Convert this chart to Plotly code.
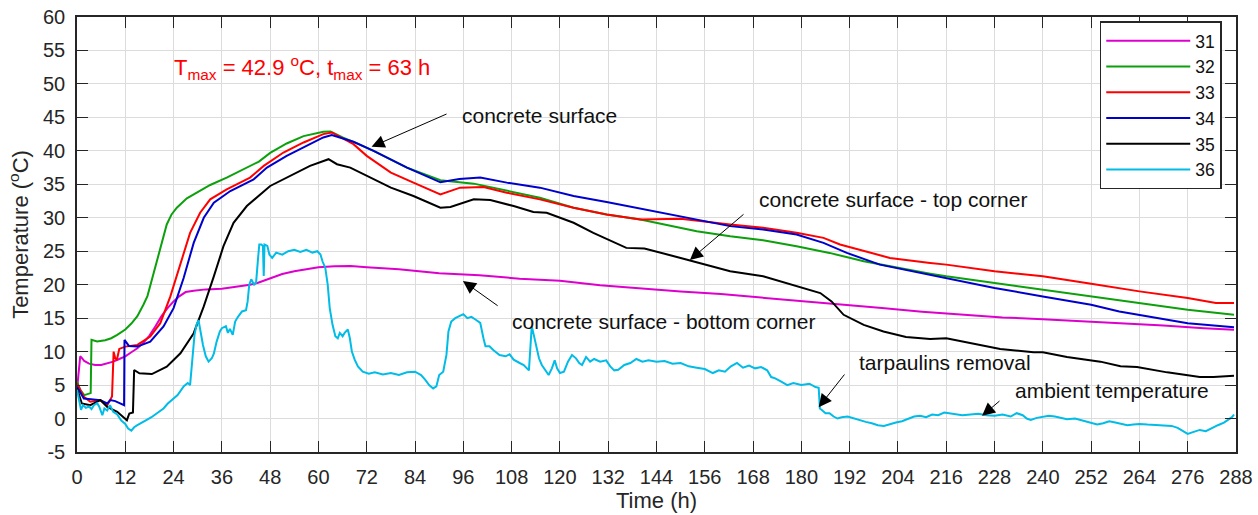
import plotly.graph_objects as go

# ---------------- data ----------------
hours_31 = [0, 0.5, 0.8, 1.3, 1.8, 3.0, 4.5, 6.0, 7.5, 9.0, 10.5, 12.0, 13.5, 15.0, 16.5, 18.0, 19.5, 21.0,
            22.5, 24.0, 25.5, 27.0, 29.0, 32, 36, 40, 43, 45, 48, 51, 54, 57, 60, 64, 68, 72, 80, 90, 100,
            110, 120, 130, 140, 150, 160, 170, 180, 190, 200, 210, 220, 230, 240, 250, 260, 270, 280, 287.5]
temp_31 = [4.3, 7.0, 9.3, 9.0, 8.6, 8.2, 8.0, 8.0, 8.2, 8.5, 8.9, 9.3, 9.9, 10.5, 11.3, 12.4, 13.8, 15.3,
           16.5, 17.5, 18.3, 18.9, 19.1, 19.3, 19.4, 19.7, 20.0, 20.3, 21.0, 21.6, 22.0, 22.3, 22.6, 22.75, 22.8,
           22.6, 22.3, 21.7, 21.4, 20.9, 20.6, 19.9, 19.4, 19.0, 18.6, 18.1, 17.6, 17.1, 16.5, 15.95, 15.5,
           15.1, 14.85, 14.55, 14.25, 13.9, 13.5, 13.25]

hours_32 = [0, 0.8, 1.8, 2.6, 3.4, 3.6, 5.0, 7.0, 8.5, 10.0, 12.0, 13.5, 15.0, 16.5, 17.5, 18.5, 20.0, 21.0,
            22.3, 23.5, 24.8, 27.3, 29.8, 33.1, 37.2, 42.2, 45.2, 48.0, 52.1, 56.3, 61.2, 63.0, 66.0, 70.0,
            73.7, 82.0, 90.3, 98.6, 106.8, 115, 123.4, 131.6, 140, 145.7, 154, 162.3, 170.5, 178.8, 187,
            195.5, 204, 212, 216, 228, 240, 252, 264, 276, 287.5]
temp_32 = [5.5, 4.3, 3.5, 3.6, 3.8, 11.75, 11.5, 11.7, 12.0, 12.5, 13.3, 14.2, 15.3, 17.0, 18.3, 20.5, 23.8,
           26.3, 29.0, 30.5, 31.5, 32.9, 33.8, 34.9, 36.0, 37.5, 38.4, 39.7, 41.1, 42.2, 42.85, 42.9, 42.0,
           41.0, 40.0, 37.5, 35.6, 35.1, 34.0, 33.0, 31.5, 30.5, 29.75, 29.0, 28.0, 27.25, 26.65, 25.75,
           24.75, 23.5, 22.5, 21.65, 21.25, 20.25, 19.25, 18.25, 17.25, 16.25, 15.5]

hours_33 = [0, 1.7, 3.3, 5.8, 7.5, 8.7, 9.1, 9.5, 9.9, 10.5, 12.0, 15.0, 18.2, 20.7, 23.2, 25.7, 28.1, 30.6,
            33.1, 37.2, 43.0, 46.4, 51.3, 56.3, 61.2, 63.3, 66.2, 68.7, 72.0, 78.0, 83.6, 90.3, 95.2, 101.0,
            106.8, 115.0, 123.4, 131.6, 140, 150, 162.3, 170.5, 178.8, 185.5, 189.6, 202, 212, 216, 228, 240,
            252, 264, 276, 283, 287.5]
temp_33 = [5.25, 3.25, 2.5, 2.75, 2.0, 3.3, 10.0, 9.0, 8.75, 10.4, 10.75, 11.0, 12.25, 14.25, 18.25, 23.25,
           27.75, 30.75, 32.75, 34.25, 36.0, 37.75, 39.75, 41.25, 42.5, 42.75, 41.75, 41.0, 39.25, 36.75,
           35.25, 33.5, 34.5, 34.6, 33.75, 32.75, 31.5, 30.5, 29.75, 29.85, 29.0, 28.5, 27.75, 27.0, 26.0,
           24.0, 23.25, 23.0, 22.0, 21.25, 20.15, 19.0, 18.0, 17.25, 17.25]

hours_34 = [0, 1.7, 5.8, 7.5, 8.3, 9.5, 11.7, 11.8, 12.9, 15.0, 18.2, 21.5, 24.0, 26.5, 29.0, 31.5, 34.0,
            38.1, 43.9, 47.2, 52.1, 56.3, 61.2, 63.3, 66.2, 68.7, 73.7, 82.0, 90.3, 95, 100.2, 106.8, 115.0,
            123.4, 131.6, 140.0, 145.7, 154, 162.3, 170.5, 178.8, 185.5, 191.3, 199.5, 209.5, 216, 228, 240,
            252, 259, 264, 276, 287.5]
temp_34 = [4.75, 3.0, 2.75, 2.25, 2.75, 2.6, 2.0, 11.75, 10.85, 10.75, 11.5, 13.75, 16.5, 21.0, 26.25, 30.0,
           32.25, 34.0, 35.75, 37.5, 39.25, 40.5, 42.0, 42.35, 41.75, 41.35, 40.0, 37.5, 35.3, 35.8, 36.0,
           35.25, 34.5, 33.25, 32.35, 31.35, 30.75, 29.75, 28.75, 28.25, 27.5, 26.25, 24.75, 23.0, 21.75,
           21.0, 19.5, 18.25, 17.0, 16.0, 15.5, 14.25, 13.65]

hours_35 = [0, 1.2, 3.3, 5.8, 7.5, 10.0, 12.4, 13.0, 13.9, 14.2, 15.5, 18.6, 22.3, 25.7, 29.0, 31.5, 34.0,
            36.4, 38.9, 42.2, 48.0, 53.0, 57.9, 62.5, 64.6, 67.9, 72.0, 78.0, 83.6, 90.3, 92.8, 98.6, 102.7,
            108.5, 113.4, 116.7, 123.4, 128.3, 136.5, 141, 150, 162.3, 170.5, 178.8, 184.7, 187.5, 190.5,
            195.5, 200.4, 206, 212, 216, 222, 229.4, 237.7, 240, 246, 254.3, 259.3, 263.4, 270.9, 279, 282.4,
            287.5]
temp_35 = [4.5, 2.25, 2.0, 2.75, 1.75, 1.0, -0.25, 0.75, 0.9, 7.25, 6.75, 6.65, 7.75, 9.75, 12.75, 16.75,
           21.25, 25.75, 29.25, 31.75, 34.75, 36.25, 37.75, 38.75, 38.0, 37.5, 36.25, 34.5, 33.25, 31.5, 31.6,
           32.75, 32.65, 31.75, 30.85, 30.75, 29.25, 27.75, 25.5, 25.4, 24.0, 22.0, 21.25, 19.75, 18.75, 17.5,
           15.5, 14.0, 13.0, 12.2, 11.9, 12.0, 11.3, 10.4, 9.9, 9.9, 9.2, 8.5, 7.8, 7.7, 6.9, 6.2, 6.2, 6.4]

hours_36 = [0, 0.5, 1.0, 1.5, 2.2, 3.0, 3.6, 4.2, 5.0, 5.5, 6.0, 6.3, 6.8, 7.5, 8.2, 9.0, 10.0, 11.0, 12.0,
            12.7, 13.5, 14.2, 15.0, 16.0, 17.0, 18.5, 20.0, 21.5, 22.5, 24.0, 25.0, 26.5, 27.5, 28.1, 28.6,
            29.2, 29.7, 30.2, 30.7, 31.3, 32.0, 32.7, 33.5, 34.0, 34.7, 35.5, 36.0, 37.0, 37.5, 38.0, 38.7,
            39.3, 40.0, 41.0, 42.0, 42.4, 42.8, 43.3, 44.0, 44.5, 45.0, 45.3, 45.8, 46.2, 46.4, 46.6, 47.3,
            47.8, 48.5, 49.5, 51.0, 52.5, 54.0, 55.5, 57.0, 58.5, 59.7, 60.5, 61.0, 61.7, 62.3, 62.8, 63.5,
            64.2, 64.8, 65.3, 66.0, 66.5, 67.3, 67.8, 68.3, 69.0, 69.8, 71.0, 72.5, 74.0, 76.0, 78.0, 80.0,
            82.0, 84.0, 85.5, 86.5, 87.5, 88.5, 89.3, 90.0, 91.0, 91.8, 92.3, 93.0, 94.0, 95.0, 96.0, 97.0,
            98.0, 99.0, 100.2, 101.0, 101.5, 102.5, 103.5, 105.0, 106.5, 107.5, 108.5, 110.0, 111.0, 112.3,
            112.7, 113.0, 113.5, 114.0, 114.8, 115.5, 116.5, 117.2, 118.0, 118.7, 119.3, 120.0, 121.0, 122.0,
            123.0, 124.0, 124.8, 125.5, 126.5, 127.5, 128.5, 130.0, 131.5, 132.5, 133.5, 134.5, 136.0, 137.5,
            139.0, 140.5, 142.0, 144.0, 146.0, 148.0, 150.0, 152.0, 154.0, 156.0, 158.0, 159.5, 161.0, 162.5,
            164.0, 165.5, 167.0, 168.5, 170.0, 171.5, 172.5, 173.5, 175.0, 176.5, 178.0, 180.0, 182.0, 183.5,
            184.3, 184.6, 185.0, 186.0, 187.0, 188.0, 189.0, 190.0, 191.5, 193.0, 194.5, 196.0, 197.5, 199.0,
            200.5, 202.0, 203.5, 205.0, 206.5, 208.0, 209.5, 211.0, 212.5, 214.0, 215.5, 217.0, 218.5, 220.0,
            222.0, 224.0, 226.0, 228.0, 230.0, 232.0, 233.5, 235.0, 236.0, 237.0, 238.5, 240.0, 241.5, 243.0,
            244.5, 246.0, 248.0, 250.0, 252.0, 253.5, 255.0, 256.5, 258.0, 259.5, 261.0, 262.5, 264.0, 266.0,
            268.0, 270.0, 272.0, 273.5, 275.0, 276.0, 277.5, 279.0, 280.5, 282.0, 283.5, 285.0, 286.0, 287.0,
            287.5]
temp_36 = [4.3, 2.5, 1.3, 2.0, 1.6, 1.8, 1.4, 2.0, 2.3, 1.8, 0.9, 0.5, 1.5, 1.2, 2.0, 1.0, 0.6, -0.3, -0.8,
           -1.5, -1.8, -1.3, -1.0, -0.7, -0.3, 0.2, 0.8, 1.5, 2.2, 3.0, 3.5, 4.8, 5.3, 5.0, 8.0, 12.5, 14.0,
           14.7, 13.0, 11.0, 9.3, 8.5, 9.0, 9.7, 11.5, 13.0, 13.5, 13.8, 12.8, 13.4, 12.5, 14.5, 15.2, 16.0,
           16.2, 17.5, 20.0, 20.8, 20.0, 20.3, 24.0, 26.0, 26.0, 25.8, 21.3, 26.0, 25.8, 24.5, 24.0, 24.8,
           24.5, 25.0, 25.2, 24.9, 25.2, 24.8, 25.0, 24.5, 23.5, 22.5, 20.0, 16.5, 14.0, 12.3, 12.0, 12.8,
           12.3, 12.8, 13.3, 12.0, 10.0, 8.8, 7.8, 7.0, 6.7, 6.9, 6.6, 6.8, 6.5, 6.9, 7.0, 6.5, 5.8, 5.0, 4.5,
           4.8, 6.5, 7.0, 9.5, 13.0, 14.5, 15.0, 15.3, 15.6, 15.0, 15.2, 14.8, 14.3, 12.0, 10.8, 10.8, 10.2,
           9.5, 9.3, 9.6, 8.8, 8.3, 8.0, 7.2, 12.0, 13.8, 12.5, 11.0, 9.0, 8.0, 7.0, 6.5, 7.5, 8.7, 7.5, 6.8,
           7.0, 8.5, 9.5, 9.0, 8.3, 8.0, 9.2, 8.5, 8.9, 8.5, 8.7, 7.8, 7.2, 7.3, 8.0, 8.3, 8.9, 8.5, 8.7, 8.5,
           8.6, 8.2, 8.3, 7.8, 7.6, 7.4, 6.8, 7.2, 7.0, 7.8, 8.3, 7.6, 7.9, 7.5, 7.7, 7.2, 6.2, 6.0, 5.5, 5.0,
           5.3, 5.0, 5.2, 4.7, 4.6, 1.5, 1.3, 0.8, 0.8, 0.3, 0.0, 0.2, 0.3, 0.0, -0.2, -0.5, -0.7, -1.0, -1.1,
           -0.8, -0.6, -0.4, 0.0, 0.3, 0.4, 0.2, 0.6, 0.5, 0.9, 0.8, 0.6, 0.5, 0.6, 0.7, 0.5, 0.4, 0.6, 0.3,
           0.8, 0.5, 0.0, -0.2, 0.1, 0.2, 0.4, 0.3, 0.1, -0.1, 0.0, -0.3, -0.6, -0.9, -0.7, -0.4, -0.6, -0.8,
           -1.0, -0.9, -0.8, -0.9, -1.0, -1.0, -1.1, -1.4, -1.9, -2.3, -2.0, -1.7, -1.9, -1.4, -1.0, -0.6,
           -0.2, 0.2, 0.6]

series_names = ["31", "32", "33", "34", "35", "36"]
series_colors = ["#DD00CC", "#0CA00C", "#FF0000", "#0000CD", "#000000", "#00BCE6"]
series_hours = [hours_31, hours_32, hours_33, hours_34, hours_35, hours_36]
series_temps = [temp_31, temp_32, temp_33, temp_34, temp_35, temp_36]

x_ticks = list(range(0, 289, 12))
y_ticks = list(range(-5, 61, 5))
x_tick_labels = [str(v) for v in x_ticks]
y_tick_labels = [str(v) for v in y_ticks]

# annotations: (text, x, y) and arrows: (tip_x, tip_y, tail_x, tail_y)
labels = [
    ("concrete surface", 95.2, 45.25),
    ("concrete surface - top corner", 168.9, 32.7),
    ("concrete surface - bottom corner", 107.6, 14.55),
    ("tarpaulins removal", 193.8, 8.43),
    ("ambient temperature", 232.7, 4.2),
]
arrows = [
    (73.2, 40.6, 92.2, 45.6),
    (152.3, 23.7, 166.0, 30.7),
    (95.9, 20.55, 104.9, 16.7),
    (184.3, 1.7, 191.0, 6.8),
    (224.9, 0.4, 229.6, 2.8),
]

FONT = "Liberation Sans, Arial, Helvetica, sans-serif"

fig = go.Figure()
for name, col, xs, ys in zip(series_names, series_colors, series_hours, series_temps):
    fig.add_trace(go.Scatter(x=xs, y=ys, mode="lines", name=name,
                             line=dict(color=col, width=2)))

for (tx, ty, ax, ay) in arrows:
    fig.add_annotation(x=tx, y=ty, ax=ax, ay=ay, xref="x", yref="y", axref="x", ayref="y",
                       text="", showarrow=True, arrowhead=2, arrowsize=2.6, arrowwidth=1,
                       arrowcolor="#000000")

for (t, x, y) in labels:
    fig.add_annotation(x=x, y=y, xref="x", yref="y", text=t, showarrow=False,
                       xanchor="left", yanchor="middle",
                       font=dict(family=FONT, size=21, color="#111111"))

fig.add_annotation(x=23.6, y=52.4, xref="x", yref="y",
                   text="T<sub>max</sub> = 42.9 <sup>o</sup>C, t<sub>max</sub> = 63 h",
                   showarrow=False, xanchor="left", yanchor="middle",
                   font=dict(family=FONT, size=22, color="#FF0000"))

axis_common = dict(
    showline=True, linecolor="#262626", linewidth=1.5, mirror="ticks",
    ticks="inside", ticklen=11, tickwidth=1.2, tickcolor="#262626",
    showgrid=True, gridcolor="#DCDCDC", gridwidth=1, zeroline=False,
    automargin=False,
    tickfont=dict(family=FONT, size=20, color="#262626"),
)

fig.update_layout(
    width=1258, height=515,
    margin=dict(l=77, r=22, t=17, b=63, autoexpand=False),
    paper_bgcolor="white", plot_bgcolor="white",
    font=dict(family=FONT, color="#262626"),
    showlegend=True,
    legend=dict(x=0.9877, xanchor="right", y=0.99, yanchor="top",
                bgcolor="white", bordercolor="#262626", borderwidth=1.5,
                font=dict(family=FONT, size=17.5, color="#111111"),
                itemwidth=84, tracegroupgap=0),
    xaxis=dict(range=[0, 288], tickvals=x_ticks, ticktext=x_tick_labels, ticklabelstandoff=6,
               title=dict(text="Time (h)", font=dict(family=FONT, size=22, color="#262626"), standoff=2),
               **axis_common),
    yaxis=dict(range=[-5, 60], tickvals=y_ticks, ticktext=y_tick_labels, ticklabelstandoff=6,
               title=dict(text="Temperature (<sup>o</sup>C)", font=dict(family=FONT, size=22, color="#262626"), standoff=8),
               **axis_common),
)

fig.write_html("out.html", config={"displayModeBar": False},
               post_script="document.body.style.margin='0px';document.body.style.overflow='hidden';")
